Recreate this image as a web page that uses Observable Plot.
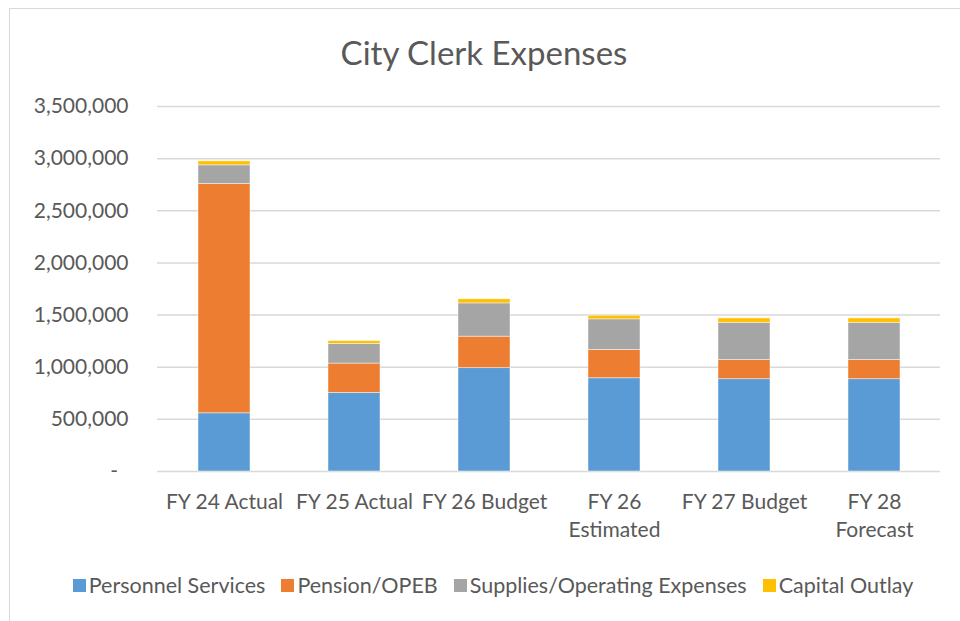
<!DOCTYPE html>
<html>
<head>
<meta charset="utf-8">
<script src="https://cdn.jsdelivr.net/npm/d3@7"></script>
<script src="https://cdn.jsdelivr.net/npm/@observablehq/plot@0.6"></script>
<style>
  html, body { margin: 0; padding: 0; background: #fff; }
  #page { position: relative; width: 960px; height: 621px; overflow: hidden; font-family: Lato, "Open Sans", sans-serif; color: #595959; }
  #frame { position: absolute; left: 9px; top: 8px; width: 980px; height: 660px; border: 1.5px solid #d9d9d9; box-sizing: border-box; }
  #title { position: absolute; left: 0; width: 968px; top: 34px; text-align: center; font-size: 33px; line-height: 36px; }
  #chart { position: absolute; left: 0; top: 80px; }
  #legend { position: absolute; left: 0; width: 986px; top: 571px; display: flex; justify-content: center; font-size: 21.5px; line-height: 28px; }
  .item { display: flex; align-items: center; margin: 0 8px; white-space: nowrap; }
  .sw { width: 13px; height: 13px; margin-right: 3px; }
</style>
</head>
<body>
<div id="page">
  <div id="frame"></div>
  <div id="title">City Clerk Expenses</div>
  <div id="chart"></div>
  <div id="legend"></div>
</div>
<script>
const categories = ["FY 24 Actual", "FY 25 Actual", "FY 26 Budget", "FY 26 Estimated", "FY 27 Budget", "FY 28 Forecast"];
const categoryLabels = ["FY 24 Actual", "FY 25 Actual", "FY 26 Budget", "FY 26\nEstimated", "FY 27 Budget", "FY 28\nForecast"];
const seriesNames = ["Personnel Services", "Pension/OPEB", "Supplies/Operating Expenses", "Capital Outlay"];
const seriesColors = ["#5B9BD5", "#ED7D31", "#A5A5A5", "#FFC000"];
const personnel = [558000, 753000, 991000, 894000, 885000, 885000];
const pension = [2199000, 282000, 302000, 272000, 185000, 185000];
const supplies = [179000, 189000, 319000, 293000, 356000, 356000];
const capital = [38000, 26000, 39000, 34000, 42000, 42000];
const yTicks = [0, 500000, 1000000, 1500000, 2000000, 2500000, 3000000, 3500000];

const seriesValues = [personnel, pension, supplies, capital];
const rows = [];
seriesNames.forEach((s, si) => {
  categories.forEach((c, ci) => {
    rows.push({category: c, series: s, value: seriesValues[si][ci]});
  });
});

const fmt = d3.format(",");
const chart = Plot.plot({
  width: 960,
  height: 471,
  marginLeft: 157,
  marginRight: 20,
  marginTop: 26,
  marginBottom: 80,
  style: {fontFamily: "Lato, 'Open Sans', sans-serif", fontSize: "21px", color: "#595959", background: "transparent"},
  x: {domain: categories, paddingInner: 0.6, paddingOuter: 0.3, label: null},
  y: {domain: [0, 3500000], label: null},
  color: {domain: seriesNames, range: seriesColors},
  marks: [
    Plot.gridY(yTicks, {stroke: "#d9d9d9", strokeOpacity: 1, strokeWidth: 1.5}),
    Plot.barY(rows, {x: "category", y: "value", fill: "series", order: seriesNames, stroke: "#fff", strokeOpacity: 0.6, strokeWidth: 0.75}),
    Plot.axisY(yTicks, {tickSize: 0, tickPadding: 29, label: null, tickFormat: d => d === 0 ? "-\u2002" : fmt(d)}),
    Plot.axisX({tickSize: 0, tickPadding: 18, label: null, lineHeight: 1.33, tickFormat: d => categoryLabels[categories.indexOf(d)]})
  ]
});
document.getElementById("chart").appendChild(chart);

const legend = document.getElementById("legend");
seriesNames.forEach((s, i) => {
  const item = document.createElement("div");
  item.className = "item";
  const sw = document.createElement("div");
  sw.className = "sw";
  sw.style.background = seriesColors[i];
  const t = document.createElement("span");
  t.textContent = s;
  item.appendChild(sw);
  item.appendChild(t);
  legend.appendChild(item);
});
</script>
</body>
</html>
